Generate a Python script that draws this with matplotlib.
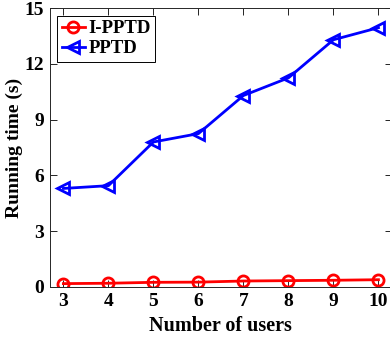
import matplotlib.pyplot as plt

users = [3, 4, 5, 6, 7, 8, 9, 10]
ipptd = [0.18, 0.20, 0.25, 0.26, 0.32, 0.34, 0.36, 0.39]
pptd = [5.30, 5.45, 7.80, 8.25, 10.30, 11.25, 13.30, 13.95]

plt.rcParams['font.family'] = ['Liberation Serif', 'DejaVu Serif']
plt.rcParams['font.weight'] = 'bold'

fig = plt.figure(figsize=(3.9, 3.4), dpi=100)
ax = fig.add_axes([0.128, 0.156, 0.877, 0.82])

ax.plot(users, ipptd, color='red', marker='o', markersize=8, markerfacecolor='none',
        markeredgewidth=2, linewidth=2, label='I-PPTD')
ax.plot(users, pptd, color='blue', marker='<', markersize=9, markerfacecolor='none',
        markeredgewidth=2, linewidth=2, label='PPTD')

ax.set_xlim(2.7, 10.3)
ax.set_ylim(0, 15)
ax.set_xticks(users)
ax.set_yticks([0, 3, 6, 9, 12, 15])
ax.tick_params(direction='in', top=True, right=True, labelsize=14, length=5, width=0.6, pad=4)
for s in ax.spines.values():
    s.set_linewidth(0.7)
    s.set_color('#262626')

ax.set_xlabel('Number of users', fontsize=14.5, fontweight='bold', labelpad=5)
ax.set_ylabel('Running time (s)', fontsize=14, fontweight='bold', labelpad=1)

leg = ax.legend(loc='upper left', fontsize=13.5, handlelength=1.2, handletextpad=0.2,
                borderpad=0.25, labelspacing=0.15, fancybox=False, framealpha=1,
                borderaxespad=0.4)
leg.get_frame().set_edgecolor('black')
leg.get_frame().set_linewidth(0.7)

fig.savefig('out.png', dpi=100)
